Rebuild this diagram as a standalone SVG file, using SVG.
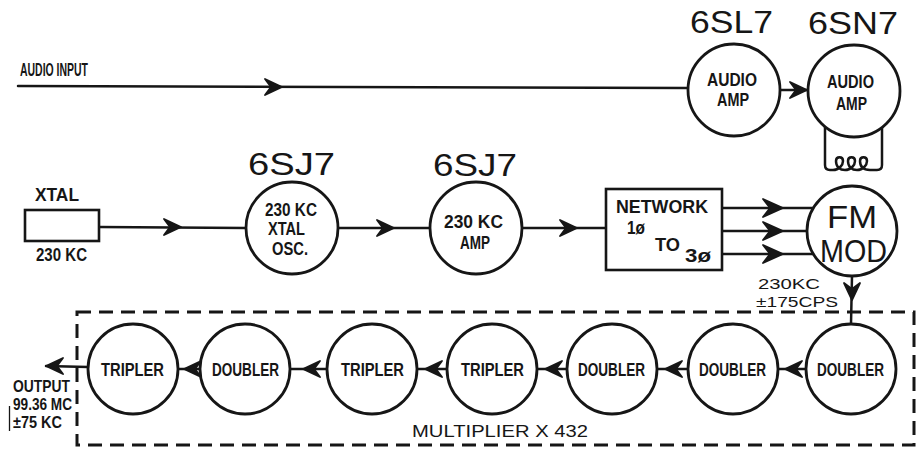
<svg xmlns="http://www.w3.org/2000/svg" xmlns:xlink="http://www.w3.org/1999/xlink" width="923" height="453" viewBox="0 0 923 453">
<style>
.ln{stroke:#161616;stroke-width:2.5;fill:none;stroke-linecap:round}
.nd{fill:#fff;stroke:#161616;stroke-width:2.8}
.bx{fill:#fff;stroke:#161616;stroke-width:2.6}
.t{font-family:"Liberation Sans",Arial,sans-serif;font-weight:bold;fill:#161616;font-size:18px}
.n{font-family:"Liberation Sans",Arial,sans-serif;font-weight:normal;fill:#161616;font-size:17px}
.ti{font-family:"Liberation Sans",Arial,sans-serif;font-weight:normal;fill:#161616;font-size:31px}
.ah{fill:#161616;stroke:#161616;stroke-width:1.8;stroke-linejoin:round}
.dash{fill:none;stroke:#161616;stroke-width:3;stroke-dasharray:14 8}
</style>
<defs>
<path id="ah" d="M0,0 L-17,-8 L-11,0 L-17,8 Z"/>
<path id="ahl" d="M0,0 L-20,-9 L-13,0 L-20,9 Z"/>
</defs>
<rect width="923" height="453" fill="#fff"/>

<g id="connectors">
  <line class="ln" x1="18" y1="86" x2="688" y2="88"/>
  <use href="#ah" class="ah" transform="translate(282,87)"/>
  <line class="ln" x1="780" y1="90" x2="808" y2="90"/>
  <use href="#ah" class="ah" transform="translate(807,90)"/>
  <line class="ln" x1="99" y1="227" x2="246" y2="228"/>
  <use href="#ah" class="ah" transform="translate(181,227)"/>
  <line class="ln" x1="338" y1="228" x2="430" y2="228"/>
  <use href="#ah" class="ah" transform="translate(394,228)"/>
  <line class="ln" x1="522" y1="228" x2="606" y2="228"/>
  <use href="#ah" class="ah" transform="translate(577,228)"/>
  <line class="ln" x1="722" y1="208" x2="813" y2="208"/>
  <line class="ln" x1="722" y1="231" x2="807" y2="231"/>
  <line class="ln" x1="722" y1="254" x2="813" y2="254"/>
  <use href="#ahl" class="ah" transform="translate(783,208)"/>
  <use href="#ahl" class="ah" transform="translate(783,231)"/>
  <use href="#ahl" class="ah" transform="translate(783,254)"/>
  <line class="ln" x1="852" y1="276" x2="851" y2="324"/>
  <use href="#ah" class="ah" transform="translate(852,300) rotate(90)"/>
  <line class="ln" x1="778" y1="369" x2="806" y2="369"/>
  <use href="#ah" class="ah" transform="translate(785,369) rotate(180)"/>
  <line class="ln" x1="657" y1="369" x2="688" y2="369"/>
  <use href="#ah" class="ah" transform="translate(665,369) rotate(180)"/>
  <line class="ln" x1="537" y1="369" x2="567" y2="369"/>
  <use href="#ah" class="ah" transform="translate(545,369) rotate(180)"/>
  <line class="ln" x1="417" y1="369" x2="447" y2="369"/>
  <use href="#ah" class="ah" transform="translate(425,369) rotate(180)"/>
  <line class="ln" x1="290" y1="369" x2="327" y2="369"/>
  <use href="#ah" class="ah" transform="translate(303,369) rotate(180)"/>
  <line class="ln" x1="178" y1="369" x2="200" y2="369"/>
  <use href="#ah" class="ah" transform="translate(184,369) rotate(180)"/>
  <line class="ln" x1="88" y1="367" x2="46" y2="366"/>
  <use href="#ah" class="ah" transform="translate(46,366) rotate(180)"/>
</g>

<g id="audio-input-label">
  <text class="t" x="20" y="76" textLength="68" lengthAdjust="spacingAndGlyphs">AUDIO INPUT</text>
</g>

<g id="audio-amp-6sl7">
  <text class="ti" x="690" y="33" textLength="83" lengthAdjust="spacingAndGlyphs">6SL7</text>
  <circle class="nd" cx="734" cy="90" r="46"/>
  <text class="t" x="707" y="86" textLength="50" lengthAdjust="spacingAndGlyphs">AUDIO</text>
  <text class="t" x="717" y="106" textLength="32" lengthAdjust="spacingAndGlyphs">AMP</text>
</g>

<g id="audio-amp-6sn7">
  <text class="ti" x="808" y="34" textLength="90" lengthAdjust="spacingAndGlyphs">6SN7</text>
  <path class="ln" d="M825,127 L825,165 Q825,170 830,170 L833,170 C839,170 843,165 843,161 C843,156 836,156 836,161 C836,167 840,170 845,170 C851,170 855,165 855,161 C855,156 848,156 848,161 C848,167 852,170 857,170 C863,170 867,165 867,161 C867,156 860,156 860,161 C860,167 864,170 870,170 L877,170 Q882,170 882,165 L882,128"/>
  <circle class="nd" cx="854" cy="91" r="46"/>
  <text class="t" x="827" y="88" textLength="47" lengthAdjust="spacingAndGlyphs">AUDIO</text>
  <text class="t" x="836" y="110" textLength="31" lengthAdjust="spacingAndGlyphs">AMP</text>
</g>

<g id="xtal">
  <text class="t" x="35" y="201" textLength="44" lengthAdjust="spacingAndGlyphs">XTAL</text>
  <rect class="bx" x="25" y="210" width="74" height="31"/>
  <text class="t" x="36" y="261" textLength="51" lengthAdjust="spacingAndGlyphs">230 KC</text>
</g>

<g id="xtal-osc-6sj7">
  <text class="ti" x="248" y="175" textLength="87" lengthAdjust="spacingAndGlyphs">6SJ7</text>
  <circle class="nd" cx="292" cy="228" r="46"/>
  <text class="t" x="265" y="216" textLength="52" lengthAdjust="spacingAndGlyphs">230 KC</text>
  <text class="t" x="268" y="235" textLength="37" lengthAdjust="spacingAndGlyphs">XTAL</text>
  <text class="t" x="272" y="255" textLength="36" lengthAdjust="spacingAndGlyphs">OSC.</text>
</g>

<g id="amp-6sj7">
  <text class="ti" x="433" y="176" textLength="84" lengthAdjust="spacingAndGlyphs">6SJ7</text>
  <circle class="nd" cx="476" cy="228" r="46"/>
  <text class="t" x="444" y="228" textLength="59" lengthAdjust="spacingAndGlyphs">230 KC</text>
  <text class="t" x="460" y="249" textLength="30" lengthAdjust="spacingAndGlyphs">AMP</text>
</g>

<g id="network">
  <rect class="bx" x="606" y="189" width="116" height="81"/>
  <text class="t" x="616" y="213" textLength="92" lengthAdjust="spacingAndGlyphs">NETWORK</text>
  <text class="t" x="627" y="234" textLength="18" lengthAdjust="spacingAndGlyphs">1ø</text>
  <text class="t" x="655" y="251" textLength="25" lengthAdjust="spacingAndGlyphs">TO</text>
  <text class="t" x="685" y="262" textLength="26" lengthAdjust="spacingAndGlyphs">3ø</text>
</g>

<g id="fm-mod">
  <circle class="nd" cx="852" cy="231" r="45"/>
  <text class="ti" x="827" y="228" font-size="32" textLength="50" lengthAdjust="spacingAndGlyphs">FM</text>
  <text class="ti" x="820" y="262" font-size="32" textLength="67" lengthAdjust="spacingAndGlyphs">MOD</text>
  <text class="n" x="758" y="289" style="font-size:15.5px" textLength="62" lengthAdjust="spacingAndGlyphs">230KC</text>
  <text class="n" x="756" y="307" style="font-size:15.5px" textLength="82" lengthAdjust="spacingAndGlyphs">±175CPS</text>
</g>

<g id="multiplier">
  <rect class="dash" x="77" y="312" width="837" height="133"/>
  <text class="n" x="412" y="437" textLength="176" lengthAdjust="spacingAndGlyphs">MULTIPLIER X 432</text>
</g>

<g id="doubler-1">
  <circle class="nd" cx="851" cy="369" r="45"/>
  <text class="t" x="817" y="376" textLength="67" lengthAdjust="spacingAndGlyphs">DOUBLER</text>
</g>
<g id="doubler-2">
  <circle class="nd" cx="733" cy="369" r="45"/>
  <text class="t" x="699" y="376" textLength="67" lengthAdjust="spacingAndGlyphs">DOUBLER</text>
</g>
<g id="doubler-3">
  <circle class="nd" cx="612" cy="369" r="45"/>
  <text class="t" x="578" y="376" textLength="67" lengthAdjust="spacingAndGlyphs">DOUBLER</text>
</g>
<g id="tripler-1">
  <circle class="nd" cx="492" cy="369" r="45"/>
  <text class="t" x="461" y="376" textLength="63" lengthAdjust="spacingAndGlyphs">TRIPLER</text>
</g>
<g id="tripler-2">
  <circle class="nd" cx="372" cy="369" r="45"/>
  <text class="t" x="341" y="376" textLength="63" lengthAdjust="spacingAndGlyphs">TRIPLER</text>
</g>
<g id="doubler-4">
  <circle class="nd" cx="245" cy="369" r="45"/>
  <text class="t" x="212" y="376" textLength="67" lengthAdjust="spacingAndGlyphs">DOUBLER</text>
</g>
<g id="tripler-3">
  <circle class="nd" cx="133" cy="369" r="45"/>
  <text class="t" x="101" y="376" textLength="63" lengthAdjust="spacingAndGlyphs">TRIPLER</text>
</g>

<g id="output">
  <text class="t" x="13" y="392" style="font-size:17px" textLength="57" lengthAdjust="spacingAndGlyphs">OUTPUT</text>
  <text class="t" x="13" y="410" style="font-size:17px" textLength="59" lengthAdjust="spacingAndGlyphs">99.36 MC</text>
  <text class="t" x="13" y="428" style="font-size:17px" textLength="49" lengthAdjust="spacingAndGlyphs">±75 KC</text>
  <line x1="9.5" y1="406" x2="9.5" y2="431" stroke="#161616" stroke-width="1.3"/>
</g>
</svg>
